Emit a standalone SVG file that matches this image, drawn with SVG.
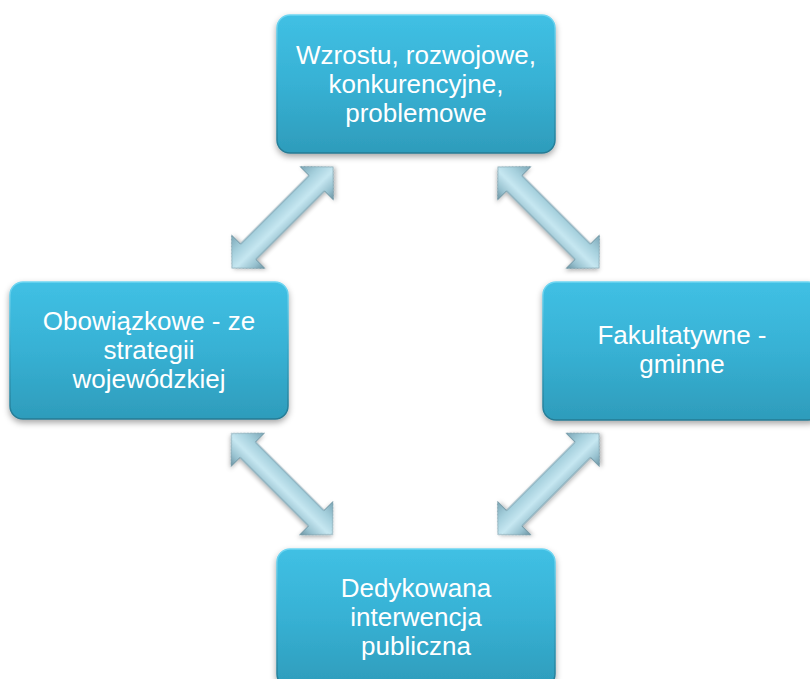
<svg xmlns="http://www.w3.org/2000/svg" width="810" height="679" viewBox="0 0 810 679">
<defs>
<linearGradient id="boxFill" x1="0" y1="0" x2="0" y2="1">
<stop offset="0" stop-color="#40c0e4"/>
<stop offset="0.5" stop-color="#37b1d4"/>
<stop offset="1" stop-color="#2e9cbb"/>
</linearGradient>
<linearGradient id="boxEdge" x1="0" y1="0" x2="0" y2="1">
<stop offset="0" stop-color="#6fd6f2"/>
<stop offset="0.5" stop-color="#35a6c6"/>
<stop offset="1" stop-color="#257a93"/>
</linearGradient>
<linearGradient id="arrowFill" gradientUnits="userSpaceOnUse" x1="0" y1="-23.5" x2="0" y2="23.5">
<stop offset="0" stop-color="#7ba6b6"/>
<stop offset="0.3" stop-color="#a6d0dd"/>
<stop offset="0.55" stop-color="#c6e7f1"/>
<stop offset="0.8" stop-color="#97c1cf"/>
<stop offset="1" stop-color="#6a92a2"/>
</linearGradient>
<filter id="shadow" x="-10%" y="-10%" width="120%" height="130%">
<feDropShadow dx="0" dy="3" stdDeviation="3" flood-color="#000" flood-opacity="0.35"/>
</filter>
<filter id="ashadow" x="-20%" y="-20%" width="140%" height="140%">
<feDropShadow dx="1" dy="2" stdDeviation="2" flood-color="#000" flood-opacity="0.3"/>
</filter>
<path id="dblArrow" d="M -71.5 0 L -48.5 -23.5 L -48.5 -11 L 48.5 -11 L 48.5 -23.5 L 71.5 0 L 48.5 23.5 L 48.5 11 L -48.5 11 L -48.5 23.5 Z"/>
</defs>
<style>
.box{fill:url(#boxFill);stroke:url(#boxEdge);stroke-width:1.5;filter:url(#shadow)}
.lbl{font-family:"Liberation Sans",Arial,sans-serif;font-size:26px;fill:#ffffff;text-anchor:middle}
.arr{fill:url(#arrowFill);stroke:#6a909e;stroke-width:0.8;filter:url(#ashadow)}
</style>
<rect width="810" height="679" fill="#ffffff"/>
<g id="connectors">
<use href="#dblArrow" class="arr" transform="translate(282.5,217.5) rotate(-45)"/>
<use href="#dblArrow" class="arr" transform="translate(548.5,217.5) rotate(45)"/>
<use href="#dblArrow" class="arr" transform="translate(282,484) rotate(45)"/>
<use href="#dblArrow" class="arr" transform="translate(548.5,484) rotate(-45)"/>
</g>
<g id="node-top">
<rect class="box" x="277" y="15" width="278" height="138" rx="13"/>
<text class="lbl" x="416" y="64"><tspan x="416" y="64">Wzrostu, rozwojowe,</tspan><tspan x="416" dy="29">konkurencyjne,</tspan><tspan x="416" dy="29">problemowe</tspan></text>
</g>
<g id="node-left">
<rect class="box" x="10" y="282" width="278" height="137" rx="13"/>
<text class="lbl" x="149" y="330"><tspan x="149" y="330">Obowiązkowe - ze</tspan><tspan x="149" dy="29">strategii</tspan><tspan x="149" dy="29">wojewódzkiej</tspan></text>
</g>
<g id="node-right">
<rect class="box" x="543" y="282" width="278" height="138" rx="13"/>
<text class="lbl" x="682" y="344"><tspan x="682" y="344">Fakultatywne -</tspan><tspan x="682" dy="29">gminne</tspan></text>
</g>
<g id="node-bottom">
<rect class="box" x="277" y="549" width="278" height="138" rx="13"/>
<text class="lbl" x="416" y="597"><tspan x="416" y="597">Dedykowana</tspan><tspan x="416" dy="29">interwencja</tspan><tspan x="416" dy="29">publiczna</tspan></text>
</g>
</svg>
